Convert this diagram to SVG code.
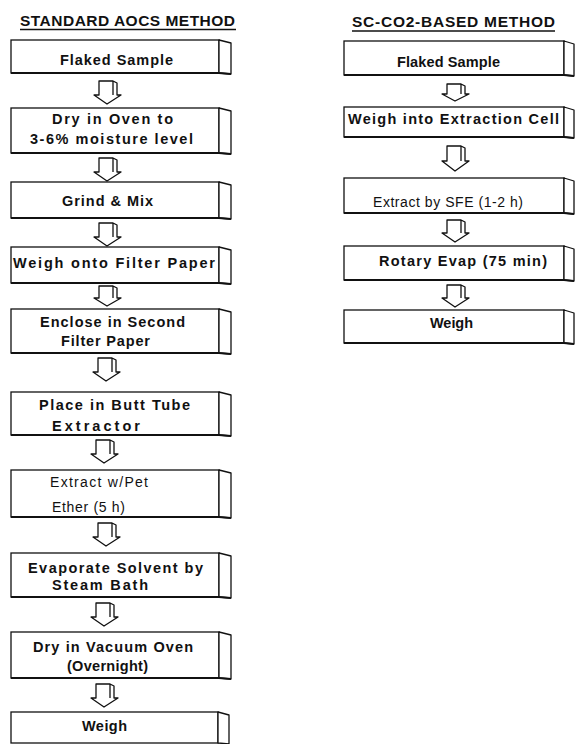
<svg xmlns="http://www.w3.org/2000/svg" width="576" height="744" viewBox="0 0 576 744">
<style>
.bg{fill:#fff}
.f{fill:#fff;stroke:#111;stroke-width:1.3}
.s{fill:#fff;stroke:#111;stroke-width:1.3;stroke-linejoin:round}
.b{fill:none;stroke:#111;stroke-width:2.2}
.a{fill:#fff;stroke:#111;stroke-width:1.3;stroke-linejoin:round}
.t{font-family:"Liberation Sans",Arial,sans-serif;font-weight:bold;font-size:14.5px;fill:#111}
.r{font-family:"Liberation Sans",Arial,sans-serif;font-size:14px;fill:#111}
.h{font-family:"Liberation Sans",Arial,sans-serif;font-weight:bold;font-size:15.5px;fill:#111}
.u{stroke:#111;stroke-width:1.5}
</style>
<rect class="bg" width="576" height="744"/>
<g id="title-left"><text class="h" x="20" y="26" textLength="215" lengthAdjust="spacing">STANDARD AOCS METHOD</text><line class="u" x1="20" y1="29.5" x2="236" y2="29.5"/></g>
<g id="title-right"><text class="h" x="352" y="27" textLength="203" lengthAdjust="spacing">SC-CO2-BASED METHOD</text><line class="u" x1="352" y1="31" x2="555" y2="31"/></g>

<g id="L1"><rect class="f" x="11" y="40" width="208" height="33"/><polygon class="s" points="219,40 231,43 231,74 219,73"/><path class="b" d="M11,73 H219 L231,74"/><text class="t" x="60" y="65" textLength="113" lengthAdjust="spacing">Flaked Sample</text></g>
<g id="L2"><rect class="f" x="11" y="108" width="208" height="45"/><polygon class="s" points="219,108 231,111 231,154 219,153"/><path class="b" d="M11,153 H219 L231,154"/><text class="t" x="52" y="123.5" textLength="121" lengthAdjust="spacing">Dry in Oven to</text><text class="t" x="30" y="143.5" textLength="163" lengthAdjust="spacing">3-6% moisture level</text></g>
<g id="L3"><rect class="f" x="11" y="182" width="208" height="36"/><polygon class="s" points="219,182 231,185 231,219 219,218"/><path class="b" d="M11,218 H219 L231,219"/><text class="t" x="62" y="205.5" textLength="91" lengthAdjust="spacing">Grind &amp; Mix</text></g>
<g id="L4"><rect class="f" x="11" y="247" width="208" height="36"/><polygon class="s" points="219,247 231,250 231,284 219,283"/><path class="b" d="M11,283 H219 L231,284"/><text class="t" x="13" y="267.5" textLength="202" lengthAdjust="spacing">Weigh onto Filter Paper</text></g>
<g id="L5"><rect class="f" x="11" y="309" width="208" height="44"/><polygon class="s" points="219,309 231,312 231,354 219,353"/><path class="b" d="M11,353 H219 L231,354"/><text class="t" x="40" y="326.5" textLength="145" lengthAdjust="spacing">Enclose in Second</text><text class="t" x="61" y="345.5" textLength="89" lengthAdjust="spacing">Filter Paper</text></g>
<g id="L6"><rect class="f" x="11" y="392" width="208" height="43"/><polygon class="s" points="219,392 231,395 231,436 219,435"/><path class="b" d="M11,435 H219 L231,436"/><text class="t" x="39" y="409.5" textLength="151" lengthAdjust="spacing">Place in Butt Tube</text><text class="t" x="52" y="430.5" textLength="88" lengthAdjust="spacing">Extractor</text></g>
<g id="L7"><rect class="f" x="11" y="470" width="208" height="47"/><polygon class="s" points="219,470 231,473 231,518 219,517"/><path class="b" d="M11,517 H219 L231,518"/><text class="r" x="50" y="486.5" textLength="98" lengthAdjust="spacing">Extract w/Pet</text><text class="r" x="52" y="511.5" textLength="73" lengthAdjust="spacing">Ether (5 h)</text></g>
<g id="L8"><rect class="f" x="11" y="553" width="208" height="44"/><polygon class="s" points="219,553 231,556 231,598 219,597"/><path class="b" d="M11,597 H219 L231,598"/><text class="t" x="28" y="573" textLength="175" lengthAdjust="spacing">Evaporate Solvent by</text><text class="t" x="52" y="590" textLength="96" lengthAdjust="spacing">Steam Bath</text></g>
<g id="L9"><rect class="f" x="11" y="632" width="208" height="46"/><polygon class="s" points="219,632 231,635 231,679 219,678"/><path class="b" d="M11,678 H219 L231,679"/><text class="t" x="33" y="651.5" textLength="160" lengthAdjust="spacing">Dry in Vacuum Oven</text><text class="t" x="67" y="670.5" textLength="81" lengthAdjust="spacing">(Overnight)</text></g>
<g id="L10"><rect class="f" x="11" y="712" width="207" height="31"/><polygon class="s" points="218,712 229,715 229,744 218,743"/><text class="t" x="82" y="730.5" textLength="45" lengthAdjust="spacing">Weigh</text></g>

<g id="R1"><rect class="f" x="344" y="41" width="220" height="34"/><polygon class="s" points="564,41 574,44 574,76 564,75"/><path class="b" d="M344,75 H564 L574,76"/><text class="t" x="397" y="67" textLength="103" lengthAdjust="spacing">Flaked Sample</text></g>
<g id="R2"><rect class="f" x="344" y="107" width="220" height="30"/><polygon class="s" points="564,107 574,110 574,138 564,137"/><path class="b" d="M344,137 H564 L574,138"/><text class="t" x="348" y="123.5" textLength="211" lengthAdjust="spacing">Weigh into Extraction Cell</text></g>
<g id="R3"><rect class="f" x="344" y="178" width="220" height="35"/><polygon class="s" points="564,178 574,181 574,214 564,213"/><path class="b" d="M344,213 H564 L574,214"/><text class="r" x="373" y="207" textLength="150" lengthAdjust="spacing">Extract by SFE (1-2 h)</text></g>
<g id="R4"><rect class="f" x="344" y="246" width="220" height="34"/><polygon class="s" points="564,246 574,249 574,281 564,280"/><path class="b" d="M344,280 H564 L574,281"/><text class="t" x="379" y="265.5" textLength="168" lengthAdjust="spacing">Rotary Evap (75 min)</text></g>
<g id="R5"><rect class="f" x="344" y="310" width="220" height="33"/><polygon class="s" points="564,310 574,313 574,344 564,343"/><path class="b" d="M344,343 H564 L574,344"/><text class="t" x="430" y="327.5" textLength="43" lengthAdjust="spacing">Weigh</text></g>

<g id="connectors">
<path class="a" d="M99,95 V81 H113 L117,83 V95 H121 L107,104 L94,95 Z M113,81 V95"/>
<path class="a" d="M99,172 V158 H113 L117,160 V172 H121 L107,181 L94,172 Z M113,158 V172"/>
<path class="a" d="M99,237 V223 H113 L117,225 V237 H121 L107,246 L94,237 Z M113,223 V237"/>
<path class="a" d="M99,298 V286 H113 L117,288 V298 H121 L107,306 L94,298 Z M113,286 V298"/>
<path class="a" d="M98,372 V358 H112 L116,360 V372 H120 L106,381 L93,372 Z M112,358 V372"/>
<path class="a" d="M96,454 V440 H110 L114,442 V454 H118 L104,463 L91,454 Z M110,440 V454"/>
<path class="a" d="M98,537 V523 H112 L116,525 V537 H120 L106,546 L93,537 Z M112,523 V537"/>
<path class="a" d="M96,617 V603 H110 L114,605 V617 H118 L104,626 L91,617 Z M110,603 V617"/>
<path class="a" d="M96,698 V684 H110 L114,686 V698 H118 L104,707 L91,698 Z M110,684 V698"/>
<path class="a" d="M447,94 V84 H461 L465,86 V94 H469 L455,101 L442,94 Z M461,84 V94"/>
<path class="a" d="M447,161 V146 H461 L465,148 V161 H469 L455,171 L442,161 Z M461,146 V161"/>
<path class="a" d="M447,233 V220 H461 L465,222 V233 H469 L455,242 L442,233 Z M461,220 V233"/>
<path class="a" d="M447,298 V285 H461 L465,287 V298 H469 L455,307 L442,298 Z M461,285 V298"/>
</g>
</svg>
